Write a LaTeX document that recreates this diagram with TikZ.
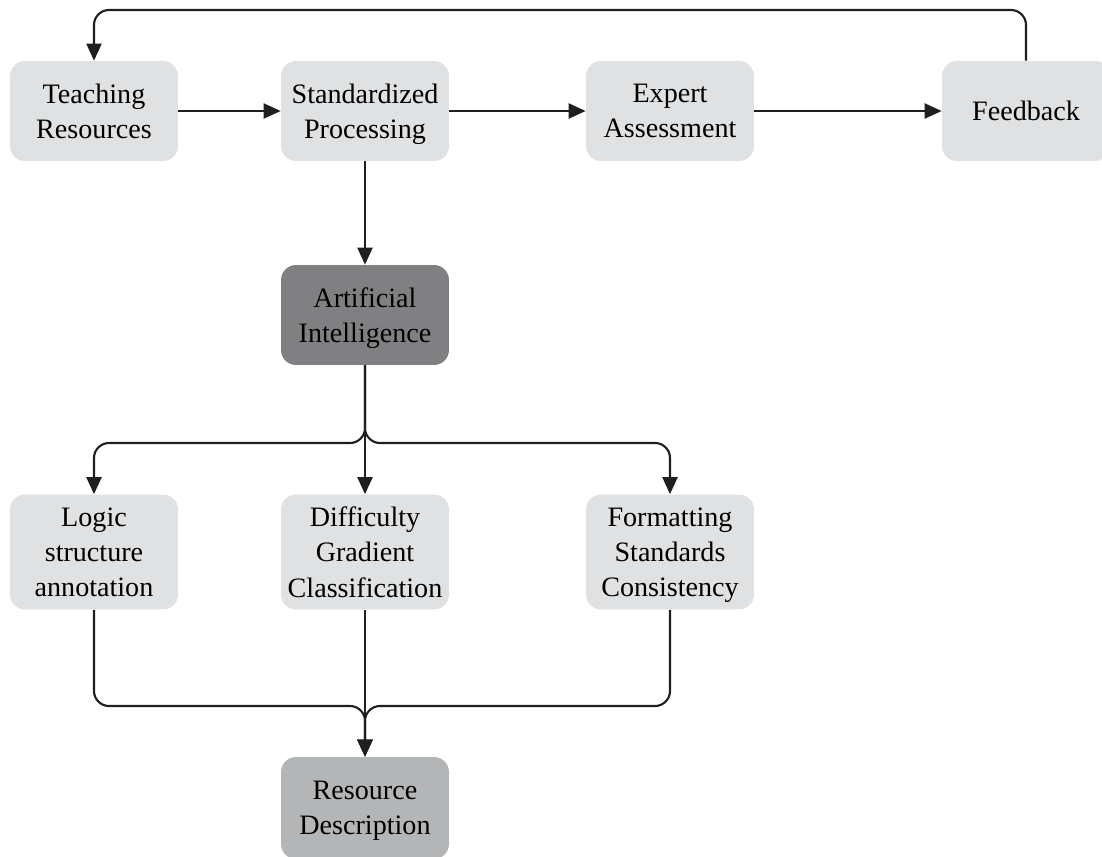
\documentclass[tikz,border=0pt]{standalone}
\usepackage{fontspec}
\setmainfont{Liberation Serif}
\usetikzlibrary{arrows.meta}
\definecolor{boxgray}{RGB}{224,225,226}
\definecolor{aigray}{RGB}{128,128,130}
\definecolor{descgray}{RGB}{180,181,183}
\begin{document}
\begin{tikzpicture}[x=0.02cm,y=-0.02cm]

	 \tikzstyle{stepnode}=[rounded corners=0.3cm,fill=boxgray,minimum width=3.36cm,minimum height=2cm,inner sep=0pt,align=center,font=\fontsize{16}{20}\selectfont,text depth=0pt]
	 \tikzstyle{tallnode}=[stepnode,minimum height=2.3cm]
	 \tikzstyle{edge}=[draw,line width=1.2pt,black!88,rounded corners=0.3cm,-{Triangle[length=0.34cm,width=0.3cm]}]
	 \useasboundingbox (0,0) rectangle (1102,856);
	 \node[stepnode] (tr) at (94,111) {Teaching\\Resources};
	 \node[stepnode] (sp) at (365,111) {Standardized\\Processing};
	 \node[stepnode] (ea) at (670,111) {Expert\\Assessment};
	 \node[stepnode] (fb) at (1026,111) {Feedback};
	 \node[stepnode,fill=aigray] (ai) at (365,315) {Artificial\\Intelligence};
	 \node[tallnode] (lsa) at (94,552) {Logic\\structure\\annotation};
	 \node[tallnode] (dgc) at (365,552) {Difficulty\\Gradient\\Classification};
	 \node[tallnode] (fsc) at (670,552) {Formatting\\Standards\\Consistency};
	 \node[stepnode,fill=descgray,minimum height=2.04cm] (rd) at (365,808) {Resource\\Description};
	 \draw[edge] (tr) -- (sp);
	 \draw[edge] (sp) -- (ea);
	 \draw[edge] (ea) -- (fb);
	 \draw[edge] (fb.north) -- (fb.north |- 0,10) -- (tr.north |- 0,10) -- (tr.north);
	 \draw[edge] (sp) -- (ai);
	 \draw[edge] (ai.south) -- (365,443) -- (94,443) -- (lsa.north);
	 \draw[edge] (ai.south) -- (365,443) -- (670,443) -- (fsc.north);
	 \draw[edge] (ai) -- (dgc);
	 \draw[edge] (lsa.south) -- (94,706) -- (365,706) -- (rd.north);
	 \draw[edge] (fsc.south) -- (670,706) -- (365,706) -- (rd.north);
	 \draw[edge] (dgc) -- (rd);

\end{tikzpicture}
\end{document}
